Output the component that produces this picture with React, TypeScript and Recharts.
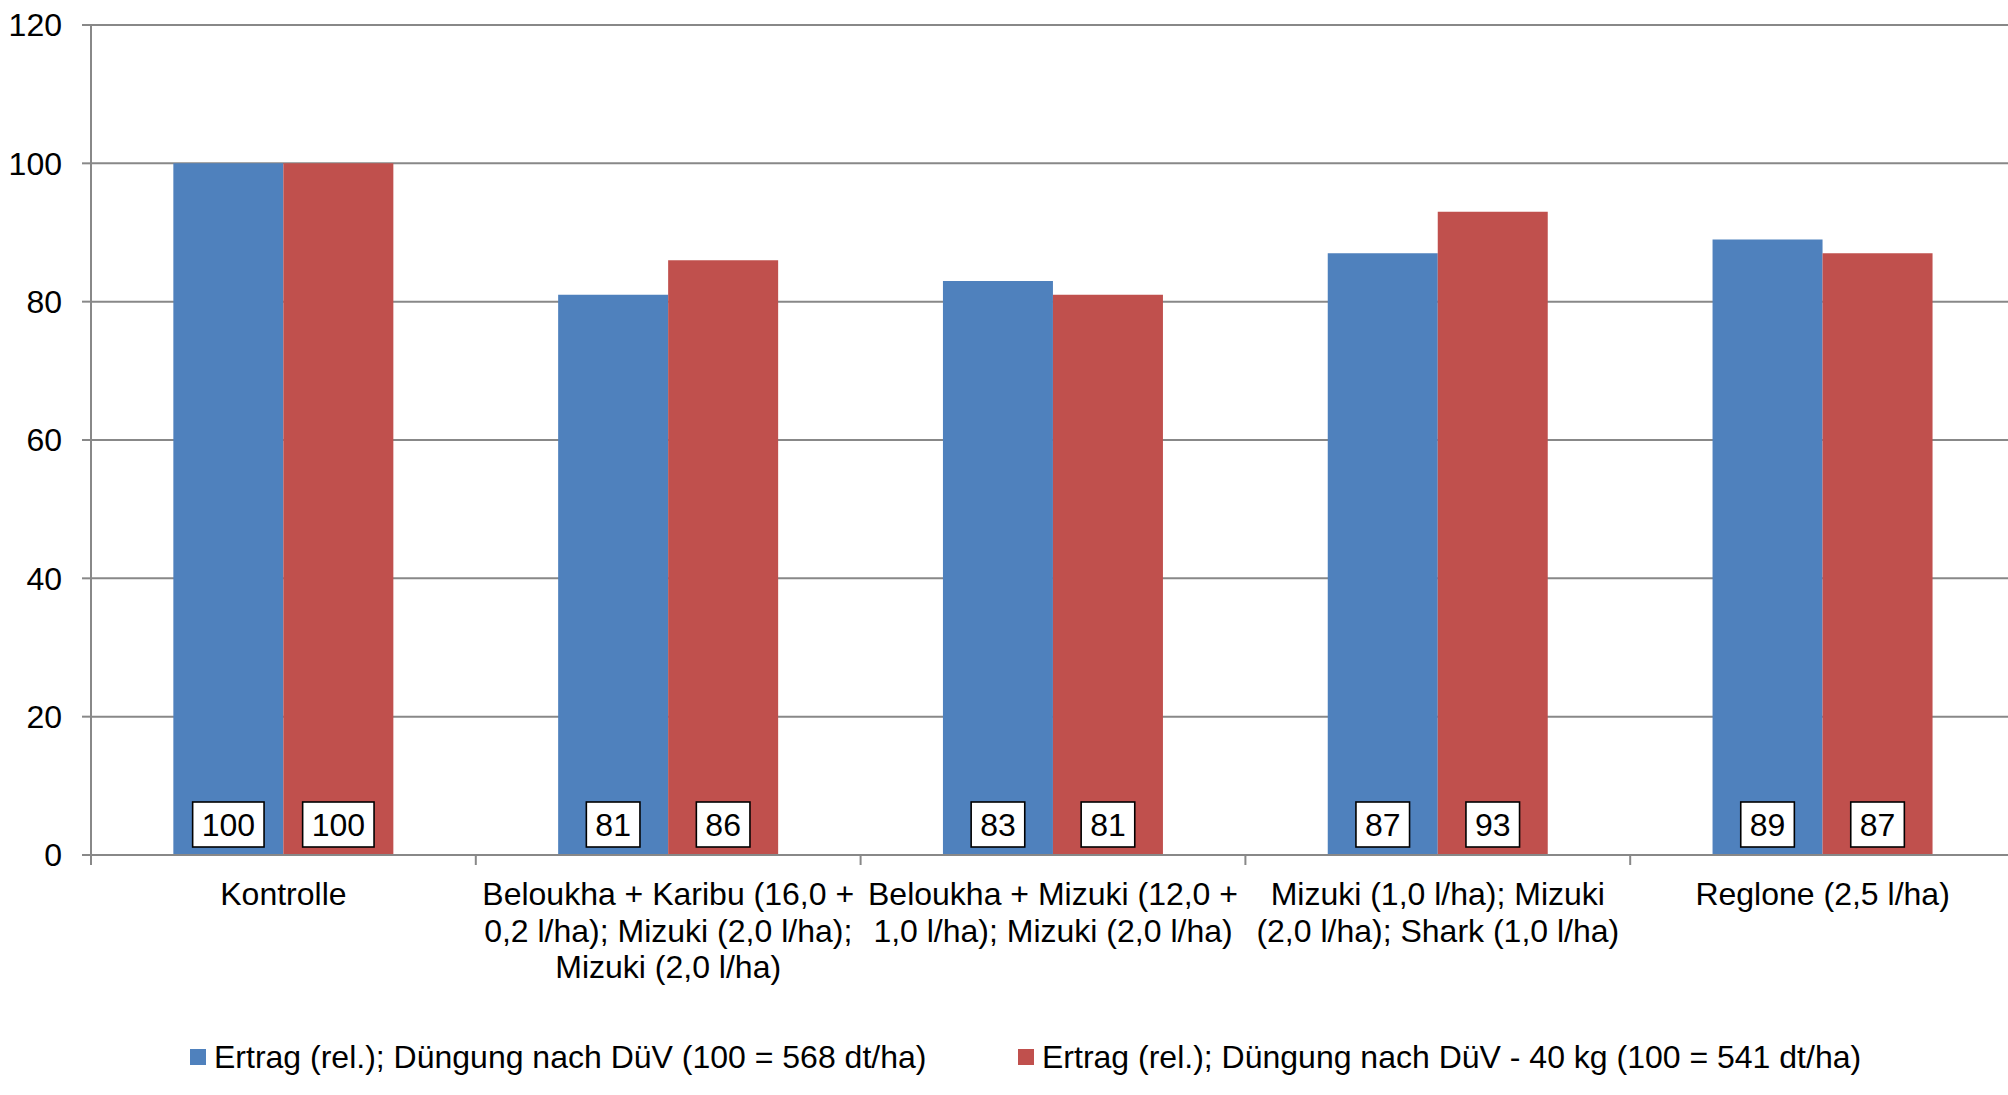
import React from 'react';
import { BarChart, Bar, XAxis, YAxis, CartesianGrid, Legend, LabelList } from 'recharts';

const categories = ['Kontrolle', 'Beloukha + Karibu', 'Beloukha + Mizuki', 'Mizuki; Mizuki; Shark', 'Reglone'];
const categoryLines = [
  ['Kontrolle'],
  ['Beloukha + Karibu (16,0 +', '0,2 l/ha); Mizuki (2,0 l/ha);', 'Mizuki (2,0 l/ha)'],
  ['Beloukha + Mizuki (12,0 +', '1,0 l/ha); Mizuki (2,0 l/ha)'],
  ['Mizuki (1,0 l/ha); Mizuki', '(2,0 l/ha); Shark (1,0 l/ha)'],
  ['Reglone (2,5 l/ha)'],
];
const ertragDuv = [100, 81, 83, 87, 89];
const ertragDuvMinus40 = [100, 86, 81, 93, 87];
const yTicks = [0, 20, 40, 60, 80, 100, 120];
const seriesNames = [
  'Ertrag (rel.); Düngung nach DüV (100 = 568 dt/ha)',
  'Ertrag (rel.); Düngung nach DüV - 40 kg (100 = 541 dt/ha)',
];

const BLUE = '#4F81BD';
const RED = '#C0504D';
const GRID = '#888888';
const FONT = '"Liberation Sans", Arial, sans-serif';

const CHART_W = 2030;
const CHART_H = 1095;
const PLOT_LEFT = 91;
const PLOT_RIGHT = 2015;
const BAND = (PLOT_RIGHT - PLOT_LEFT) / categories.length;

const data = categories.map((c, i) => ({ name: c, a: ertragDuv[i], b: ertragDuvMinus40[i] }));

const CategoryTick = ({ x, y, index }: { x: number; y: number; index: number }) => {
  const lines = categoryLines[index] || [];
  return (
    <g>
      <line x1={x - BAND / 2} x2={x - BAND / 2} y1={y} y2={y + 10} stroke={GRID} strokeWidth={2} />
      {index === categories.length - 1 && (
        <line x1={x + BAND / 2} x2={x + BAND / 2} y1={y} y2={y + 10} stroke={GRID} strokeWidth={2} />
      )}
      <text x={x} y={y + 50} textAnchor="middle" fontSize={32} fontFamily={FONT} fill="#000">
        {lines.map((l, i) => (
          <tspan key={i} x={x} dy={i === 0 ? 0 : 36.5}>{l}</tspan>
        ))}
      </text>
    </g>
  );
};

const ValueBox = (props: any) => {
  const { x, y, width, height, value } = props;
  const bottom = y + height;
  const w = String(value).length * 17.8 + 18;
  const h = 45;
  const cx = x + width / 2;
  const top = bottom - 8 - h;
  return (
    <g>
      <rect x={cx - w / 2} y={top} width={w} height={h} fill="#fff" stroke="#000" strokeWidth={1.6} />
      <text x={cx} y={top + h / 2} dy="0.355em" textAnchor="middle" fontSize={32} fontFamily={FONT} fill="#000">{value}</text>
    </g>
  );
};

const LegendContent = () => (
  <div style={{ position: 'relative', height: 50, fontFamily: FONT, fontSize: 32, color: '#000' }}>
    {[BLUE, RED].map((c, i) => (
      <div key={i} style={{ position: 'absolute', left: i === 0 ? 190 : 1018, top: -13, height: 50, display: 'flex', alignItems: 'center', whiteSpace: 'nowrap' }}>
        <span style={{ width: 16, height: 16, background: c, display: 'inline-block', marginRight: 8 }} />
        <span>{seriesNames[i]}</span>
      </div>
    ))}
  </div>
);

export default function App() {
  return (
    <div style={{ position: 'absolute', left: 0, top: 0, width: 2008, height: 1095, overflow: 'hidden', background: '#fff' }}>
      <BarChart width={CHART_W} height={CHART_H} data={data} margin={{ top: 25, right: CHART_W - PLOT_RIGHT, left: 0, bottom: 0 }} barCategoryGap="21.4%" barGap={0}>
        <CartesianGrid vertical={false} stroke={GRID} strokeWidth={2} />
        <YAxis
          width={PLOT_LEFT}
          domain={[0, 120]}
          ticks={yTicks}
          interval={0}
          tickSize={9}
          tickMargin={20}
          stroke={GRID}
          strokeWidth={2}
          tick={{ fontSize: 32, fontFamily: FONT, fill: '#000' }}
        />
        <XAxis
          dataKey="name"
          height={190}
          interval={0}
          tickSize={0}
          tickMargin={0}
          tickLine={false}
          stroke={GRID}
          strokeWidth={2}
          tick={(p: any) => <CategoryTick x={p.x} y={p.y} index={p.index} />}
        />
        <Legend verticalAlign="bottom" height={50} content={() => <LegendContent />} wrapperStyle={{ left: 0, width: 2008 }} />
        <Bar dataKey="a" name={seriesNames[0]} fill={BLUE} isAnimationActive={false}>
          <LabelList dataKey="a" content={ValueBox} />
        </Bar>
        <Bar dataKey="b" name={seriesNames[1]} fill={RED} isAnimationActive={false}>
          <LabelList dataKey="b" content={ValueBox} />
        </Bar>
      </BarChart>
    </div>
  );
}
